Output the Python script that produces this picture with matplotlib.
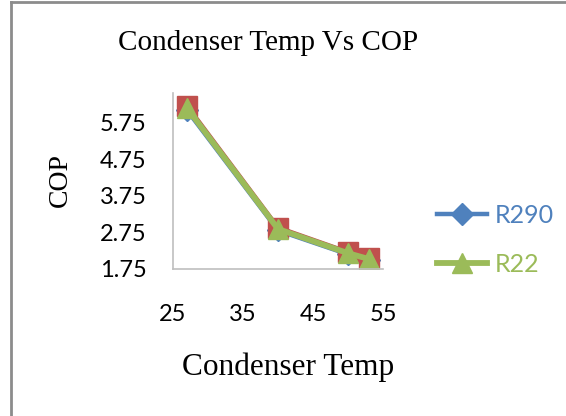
import matplotlib.pyplot as plt
from matplotlib.lines import Line2D

temps = [27, 40, 50, 53]
cop_r290 = [6.08, 2.80, 2.15, 1.99]
cop_r134a = [6.20, 2.88, 2.21, 2.05]
cop_r22 = [6.14, 2.84, 2.18, 2.02]

x_ticks = [25, 35, 45, 55]
y_ticks = [1.75, 2.75, 3.75, 4.75, 5.75]

BLUE = "#4F81BD"
RED = "#C0504D"
GREEN = "#9BBB59"

fig = plt.figure(figsize=(5.66, 4.16), dpi=100)
ax = fig.add_axes([0.3057, 0.3534, 0.371, 0.423])

ax.plot(temps, cop_r290, color=BLUE, lw=3.2, marker="D", ms=11, label="R290")
ax.plot(temps, cop_r134a, color=RED, lw=3.2, marker="s", ms=14, label="_nolegend_")
ax.plot(temps, cop_r22, color=GREEN, lw=4.2, marker="^", ms=14, label="R22")

ax.set_xlim(25, 55)
ax.set_ylim(1.75, 6.55)
ax.set_xticks(x_ticks)
ax.set_yticks(y_ticks)
ax.set_yticklabels([f"{v:.2f}" for v in y_ticks])
ax.tick_params(length=0, labelsize=17, colors="black")
ax.tick_params(axis="x", pad=25)
ax.tick_params(axis="y", pad=19)
for lbl in ax.get_xticklabels() + ax.get_yticklabels():
    lbl.set_family("Lato")

for side in ["top", "right"]:
    ax.spines[side].set_visible(False)
for side in ["left", "bottom"]:
    ax.spines[side].set_color("#BFBFBF")
    ax.spines[side].set_linewidth(1.2)

serif = "Liberation Serif"
fig.text(0.474, 0.896, "Condenser Temp Vs COP", ha="center", va="center",
         fontsize=21, family=serif)
fig.text(0.509, 0.118, "Condenser Temp", ha="center", va="center",
         fontsize=22.5, family=serif)
fig.text(0.106, 0.567, "COP", ha="center", va="center", rotation=90,
         fontsize=20, family=serif)

leg = ax.legend(loc="center left", bbox_to_anchor=(1.15, 0.165), frameon=False,
                prop={"family": "Lato", "size": 18}, handlelength=2.0,
                labelspacing=1.05, handletextpad=0.3)
for text, line in zip(leg.get_texts(), leg.get_lines()):
    text.set_color(line.get_color())

# chart frame edges (left and top only, rest cropped)
fig.add_artist(Line2D([0.0195, 0.0195], [0, 0.995], color="#8C8C8C", lw=2,
                      transform=fig.transFigure))
fig.add_artist(Line2D([0.0195, 1.0], [0.994, 0.994], color="#8C8C8C", lw=2,
                      transform=fig.transFigure))

fig.savefig("out.png", dpi=100)
